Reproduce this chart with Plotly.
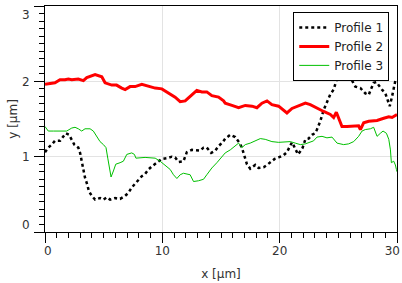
import plotly.graph_objects as go

# Profile 1 (black dotted)
x1 = [0, 0.28, 0.57, 0.85, 1.28, 1.56, 1.76, 2.05, 2.22, 2.5, 2.84, 2.99, 3.13, 3.27, 3.41, 3.56, 3.75, 3.98,
      4.27, 4.69, 4.98, 5.26, 5.55, 5.97, 6.4, 6.83, 7.11, 7.39, 7.68, 7.96, 8.25, 8.53, 8.82, 9.1, 9.39, 9.67,
      9.96, 10.38, 10.81, 11.09, 11.38, 11.8, 12.09, 12.52, 12.94, 13.23, 13.51, 13.79, 14.16, 14.51, 14.79,
      15.13, 15.36, 15.79, 16.21, 16.55, 16.78, 16.92, 17.21, 17.49, 17.92, 18.2, 18.63, 18.92, 19.2, 19.57,
      19.91, 20.34, 20.62, 20.9, 21.05, 21.19, 21.39, 21.56, 21.76, 21.96, 22.19, 22.47, 22.76, 23.0, 23.18,
      23.46, 23.75, 24.03, 24.32, 24.6, 24.83, 25.03, 25.31, 25.6, 25.88, 26.17, 26.45, 26.88, 27.3, 27.59,
      27.79, 28.01, 28.24, 28.53, 28.72, 29.01, 29.21, 29.38, 29.58, 29.72, 29.86, 30.0]
y1 = [1.06, 1.12, 1.16, 1.21, 1.21, 1.27, 1.31, 1.29, 1.24, 1.16, 1.12, 1.05, 0.94, 0.82, 0.72, 0.65, 0.54, 0.48,
      0.43, 0.45, 0.43, 0.46, 0.43, 0.45, 0.44, 0.48, 0.52, 0.59, 0.64, 0.68, 0.74, 0.77, 0.83, 0.87, 0.90, 0.94,
      0.97, 0.98, 1.00, 0.99, 0.93, 0.94, 1.06, 1.09, 1.09, 1.08, 1.12, 1.12, 1.05, 1.08, 1.14,
      1.19, 1.24, 1.29, 1.26, 1.19, 1.12, 1.05, 0.90, 0.84, 0.89, 0.85, 0.86, 0.89, 0.93, 0.97,
      0.99, 1.02, 1.06, 1.16, 1.19, 1.15, 1.08, 1.03, 1.07, 1.12, 1.23, 1.24, 1.29, 1.31, 1.36,
      1.47, 1.62, 1.73, 1.83, 1.89, 2.01, 2.04, 2.06, 2.04, 2.02, 2.01, 1.93, 1.91, 1.84, 1.82,
      1.90, 1.98, 1.99, 1.92, 1.89, 1.84, 1.73, 1.67, 1.80, 1.91, 2.01, 2.02]

# Profile 2 (red)
x2 = [0, 0.85, 1.28, 1.7, 1.99, 2.28, 2.84, 3.27, 3.56, 3.98, 4.27, 4.84, 5.12, 5.69, 6.1, 6.54, 6.83, 7.25,
      7.68, 8.25, 8.96, 9.39, 9.96, 10.52, 11.09, 11.52, 11.95, 12.23, 12.66, 12.94, 13.37, 13.79, 14.22,
      14.79, 15.22, 15.36, 15.93, 16.5, 17.07, 17.64, 18.06, 18.49, 18.92, 19.34, 19.91, 20.34, 20.62, 21.05,
      21.62, 22.19, 22.61, 23.18, 23.75, 24.32, 24.6, 24.83, 25.03, 25.31, 25.74, 26.31, 26.73, 26.88, 27.16,
      27.59, 28.3, 28.87, 29.3, 29.58, 30.0]
y2 = [1.96, 1.98, 2.02, 2.02, 2.03, 2.02, 2.03, 2.01, 2.05, 2.08, 2.09, 2.06, 1.98, 1.95, 1.95, 1.91, 1.89, 1.93,
      1.93, 1.96, 1.93, 1.91, 1.90, 1.84, 1.79, 1.73, 1.74, 1.78, 1.84, 1.88, 1.86, 1.86, 1.81,
      1.79, 1.74, 1.71, 1.68, 1.65, 1.68, 1.67, 1.65, 1.71, 1.74, 1.69, 1.67, 1.62, 1.58, 1.64,
      1.67, 1.71, 1.69, 1.64, 1.60, 1.56, 1.52, 1.59, 1.51, 1.40, 1.40, 1.41, 1.41, 1.36, 1.45,
      1.47, 1.48, 1.51, 1.53, 1.52, 1.56]

# Profile 3 (green)
x3 = [0, 0.28, 0.71, 1.14, 1.56, 1.85, 2.28, 2.56, 2.84, 3.13, 3.41, 3.84, 4.12, 4.41, 4.69, 4.98, 5.2, 5.35,
      5.49, 5.63, 5.83, 6.03, 6.4, 6.68, 6.97, 7.39, 7.62, 7.75, 8.53, 9.39, 9.81, 10.24, 10.67, 10.95, 11.24,
      11.52, 11.8, 12.37, 12.66, 13.08, 13.51, 13.79, 14.22, 14.65, 15.07, 15.36, 15.79, 16.21, 16.5, 16.78,
      17.07, 17.49, 17.92, 18.35, 18.77, 19.34, 19.91, 20.48, 20.9, 21.33, 21.76, 22.19, 22.61, 22.89, 23.18,
      23.61, 24.03, 24.46, 24.89, 25.45, 25.88, 26.31, 26.73, 27.02, 27.3, 27.73, 28.01, 28.3, 28.58, 28.81,
      29.1, 29.3, 29.44, 29.52, 29.72, 29.86, 29.95, 30.0]
y3 = [1.40, 1.34, 1.34, 1.34, 1.34, 1.34, 1.38, 1.39, 1.37, 1.34, 1.37, 1.37, 1.34, 1.27, 1.20, 1.16, 1.12, 0.98,
      0.85, 0.73, 0.81, 0.90, 0.92, 0.94, 1.03, 1.05, 1.03, 0.98, 0.99, 0.98, 0.94, 0.89, 0.83, 0.76, 0.71,
      0.76, 0.78, 0.76, 0.67, 0.68, 0.70, 0.76, 0.85, 0.92, 0.99, 1.05, 1.09, 1.14, 1.18, 1.12,
      1.16, 1.18, 1.21, 1.24, 1.23, 1.20, 1.19, 1.19, 1.20, 1.18, 1.16, 1.17, 1.19, 1.21, 1.26,
      1.27, 1.25, 1.26, 1.18, 1.16, 1.17, 1.20, 1.27, 1.34, 1.36, 1.37, 1.39, 1.27, 1.31, 1.34,
      1.31, 1.23, 1.09, 0.92, 0.94, 0.89, 0.83, 0.80]

x_ticks = [0, 10, 20, 30]
y_ticks = [0, 1, 2, 3]
x_tick_text = ["0", "10", "20", "30"]
y_tick_text = ["0", "1", "2", "3"]
# label anchor positions: edge labels are nudged inward as in the reference
x_label_pos = [0.25, 10, 20, 29.6]
y_label_pos = [0.1, 1, 2, 2.885]

fig = go.Figure()
fig.add_trace(go.Scatter(x=x1, y=y1, mode="lines", name="Profile 1",
                         line=dict(color="black", width=2.5, dash="3px,3px")))
fig.add_trace(go.Scatter(x=x2, y=y2, mode="lines", name="Profile 2",
                         line=dict(color="#ff0000", width=3)))
fig.add_trace(go.Scatter(x=x3, y=y3, mode="lines", name="Profile 3",
                         line=dict(color="#00c000", width=1)))
# empty helper trace so the label-only axes exist
fig.add_trace(go.Scatter(x=[], y=[], xaxis="x2", yaxis="y2", showlegend=False, hoverinfo="skip"))

tfont = dict(family="DejaVu Sans", size=12, color="#333333")

main_common = dict(
    showline=True, linecolor="black", linewidth=1, mirror=True,
    ticks="outside", ticklen=10, tickcolor="black", tickwidth=1,
    showgrid=True, gridcolor="#e3e3e3", gridwidth=1, zeroline=False,
    showticklabels=False, automargin=False,
)
label_common = dict(
    showline=False, showgrid=False, zeroline=False,
    ticks="outside", tickcolor="rgba(0,0,0,0)",
    tickfont=tfont, title_font=tfont, automargin=False, ticklabeloverflow="allow",
)

fig.update_layout(
    width=402, height=283,
    margin=dict(l=45, r=5, t=6, b=51, autoexpand=False),
    plot_bgcolor="white", paper_bgcolor="white",
    font=dict(family="DejaVu Sans", size=12, color="#333333"),
    xaxis=dict(range=[0, 30], tickvals=x_ticks,
               minor=dict(dtick=1, ticks="outside", ticklen=5, tickcolor="black", showgrid=False),
               **main_common),
    yaxis=dict(range=[0, 3], tickvals=y_ticks,
               minor=dict(dtick=0.1, ticks="outside", ticklen=5, tickcolor="black", showgrid=False),
               **main_common),
    xaxis2=dict(overlaying="x", anchor="y2", side="bottom", range=[0, 30],
                tickvals=x_label_pos, ticktext=x_tick_text, ticklen=8,
                title=dict(text="x [µm]", standoff=12), **label_common),
    yaxis2=dict(overlaying="y", anchor="x2", side="left", range=[0, 3],
                tickvals=y_label_pos, ticktext=y_tick_text, ticklen=10,
                ticklabelstandoff=2,
                title=dict(text="y [µm]", standoff=1), **label_common),
    legend=dict(x=0.978, y=0.974, xanchor="right", yanchor="top",
                bgcolor="white", bordercolor="black", borderwidth=1,
                font=dict(family="DejaVu Sans", size=12, color="#222222"),
                itemwidth=30, tracegroupgap=0),
)

fig.write_html("out.html", config={"displayModeBar": False},
               post_script="document.body.style.margin='0';document.body.style.padding='0';")
